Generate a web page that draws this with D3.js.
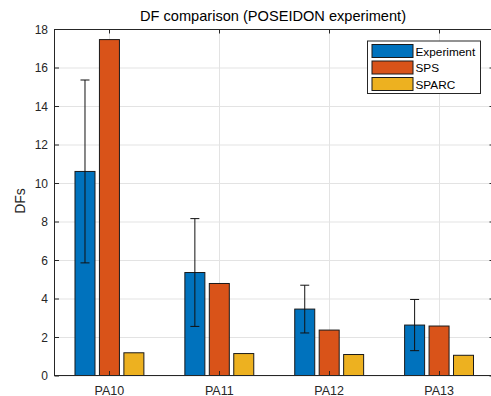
<!DOCTYPE html>
<html>
<head>
<meta charset="utf-8">
<script src="https://cdn.jsdelivr.net/npm/d3@7"></script>
<style>
  body { margin: 0; background: #fff; }
  svg { display: block; font-family: "Liberation Sans", Arial, Helvetica, sans-serif; }
</style>
</head>
<body>
<div id="chart"></div>
<script>
// Data
const categories = ['PA10', 'PA11', 'PA12', 'PA13'];
const seriesNames = ['Experiment', 'SPS', 'SPARC'];
const experiment = [10.6, 5.35, 3.45, 2.62];
const experimentErr = [4.75, 2.8, 1.24, 1.33];
const sps = [17.45, 4.78, 2.36, 2.57];
const sparc = [1.18, 1.14, 1.09, 1.05];
const yTicks = [0, 2, 4, 6, 8, 10, 12, 14, 16, 18];
const colors = ['#0072BD', '#D95319', '#EDB120'];

const width = 491, height = 396;
const margin = { left: 54.5, right: -3, top: 29, bottom: 20.5 };
const axisColor = '#262626';

const svg = d3.select('#chart').append('svg')
  .attr('width', width)
  .attr('height', height);

const plotRight = width - margin.right;
const plotBottom = height - margin.bottom;

// category index 1..4 like MATLAB, xlim [0.5, 4.5]
const x = d3.scaleLinear()
  .domain([0.5, categories.length + 0.5])
  .range([margin.left, plotRight]);

const y = d3.scaleLinear()
  .domain([0, 18])
  .range([plotBottom, margin.top]);

const step = x(2) - x(1);
const groupOffset = 0.2225;
const barWidth = 0.182 * step;

// Grid
const grid = svg.append('g').attr('class', 'grid');
grid.selectAll('line.h')
  .data(yTicks)
  .enter().append('line')
  .attr('class', 'h')
  .attr('x1', margin.left).attr('x2', plotRight)
  .attr('y1', d => y(d) + 0.5).attr('y2', d => y(d) + 0.5)
  .style('stroke', '#e3e3e3').style('stroke-width', 1);
grid.selectAll('line.v')
  .data(categories)
  .enter().append('line')
  .attr('class', 'v')
  .attr('x1', (d, i) => Math.round(x(i + 1)) + 0.5).attr('x2', (d, i) => Math.round(x(i + 1)) + 0.5)
  .attr('y1', margin.top).attr('y2', plotBottom)
  .style('stroke', '#e3e3e3').style('stroke-width', 1);

// Bars
const series = [experiment, sps, sparc];
series.forEach((vals, s) => {
  svg.append('g')
    .selectAll('rect')
    .data(vals)
    .enter().append('rect')
    .attr('x', (d, i) => x(i + 1 + (s - 1) * groupOffset) - barWidth / 2)
    .attr('y', d => y(d))
    .attr('width', barWidth)
    .attr('height', d => y(0) - y(d))
    .style('fill', colors[s])
    .style('stroke', '#1a1a1a')
    .style('stroke-width', 1);
});

// Error bars on the experiment series
const errG = svg.append('g').attr('class', 'errorbars');
experiment.forEach((v, i) => {
  const cx = x(i + 1 - groupOffset);
  const e = experimentErr[i];
  const cap = 4.5;
  errG.append('line')
    .attr('x1', cx).attr('x2', cx)
    .attr('y1', y(v - e)).attr('y2', y(v + e))
    .style('stroke', '#111').style('stroke-width', 1);
  [v - e, v + e].forEach(t => {
    errG.append('line')
      .attr('x1', cx - cap).attr('x2', cx + cap)
      .attr('y1', y(t)).attr('y2', y(t))
      .style('stroke', '#111').style('stroke-width', 1);
  });
});

// Axis box
svg.append('rect')
  .attr('x', margin.left).attr('y', margin.top + 0.5)
  .attr('width', plotRight - margin.left)
  .attr('height', plotBottom - margin.top - 0.5)
  .style('fill', 'none')
  .style('stroke', axisColor)
  .style('stroke-width', 1);

// Ticks (inward)
const tickLen = 4.5;
const ticks = svg.append('g').attr('class', 'ticks')
  .style('stroke', axisColor).style('stroke-width', 1);
yTicks.forEach(t => {
  const yy = y(t) + 0.5;
  ticks.append('line').attr('x1', margin.left).attr('x2', margin.left + tickLen).attr('y1', yy).attr('y2', yy);
  ticks.append('line').attr('x1', plotRight).attr('x2', plotRight - tickLen).attr('y1', yy).attr('y2', yy);
});
categories.forEach((c, i) => {
  const xx = Math.round(x(i + 1)) + 0.5;
  ticks.append('line').attr('x1', xx).attr('x2', xx).attr('y1', plotBottom).attr('y2', plotBottom - tickLen);
  ticks.append('line').attr('x1', xx).attr('x2', xx).attr('y1', margin.top).attr('y2', margin.top + tickLen);
});

// Tick labels
svg.append('g')
  .selectAll('text')
  .data(yTicks)
  .enter().append('text')
  .attr('x', margin.left - 6.5)
  .attr('y', d => y(d) + 4.5)
  .attr('text-anchor', 'end')
  .style('font-size', '12px')
  .style('fill', axisColor)
  .text(d => d);

svg.append('g')
  .selectAll('text')
  .data(categories)
  .enter().append('text')
  .attr('x', (d, i) => x(i + 1))
  .attr('y', plotBottom + 19)
  .attr('text-anchor', 'middle')
  .style('font-size', '12.5px')
  .style('fill', axisColor)
  .text(d => d);

// Axis label and title
svg.append('text')
  .attr('transform', `translate(25, 201) rotate(-90)`)
  .attr('text-anchor', 'middle')
  .style('font-size', '14px')
  .style('fill', axisColor)
  .text('DFs');

svg.append('text')
  .attr('x', 273)
  .attr('y', 21)
  .attr('text-anchor', 'middle')
  .style('font-size', '14.6px')
  .style('fill', '#000')
  .text('DF comparison (POSEIDON experiment)');

// Legend
const legend = svg.append('g').attr('transform', 'translate(367.5, 41)');
legend.append('rect')
  .attr('width', 113).attr('height', 52.5)
  .style('fill', '#fff')
  .style('stroke', axisColor)
  .style('stroke-width', 1);
seriesNames.forEach((name, i) => {
  const row = legend.append('g').attr('transform', `translate(4.5, ${3.5 + i * 16.5})`);
  row.append('rect')
    .attr('width', 41).attr('height', 13)
    .style('fill', colors[i])
    .style('stroke', '#1a1a1a')
    .style('stroke-width', 1);
  row.append('text')
    .attr('x', 43.5)
    .attr('y', 11)
    .style('font-size', '11.8px')
    .style('fill', '#000')
    .text(name);
});
</script>
</body>
</html>
